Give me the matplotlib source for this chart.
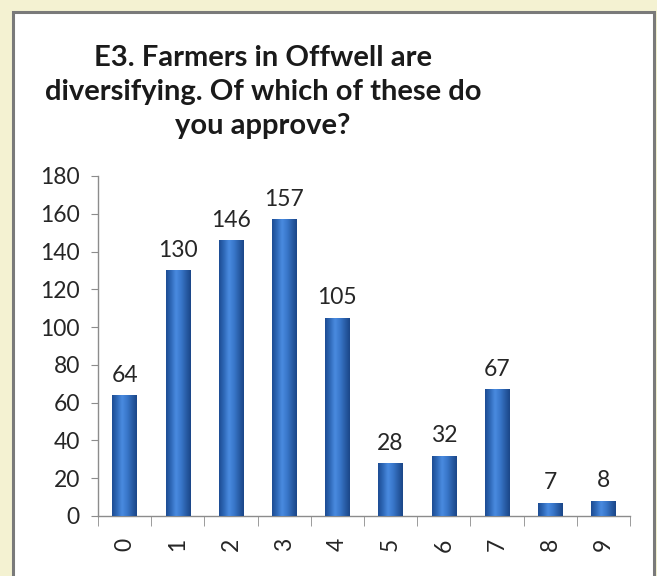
import matplotlib
matplotlib.use("Agg")
import matplotlib.pyplot as plt
import numpy as np
from matplotlib.patches import Rectangle
from matplotlib.colors import LinearSegmentedColormap

categories = ["0", "1", "2", "3", "4", "5", "6", "7", "8", "9"]
values = [64, 130, 146, 157, 105, 28, 32, 67, 7, 8]
title = "E3. Farmers in Offwell are\ndiversifying. Of which of these do\nyou approve?"

plt.rcParams['font.family'] = ['Lato', 'DejaVu Sans']

W, H = 657, 576
fig = plt.figure(figsize=(W / 100, H / 100), dpi=100)
fig.patch.set_facecolor('#f4f2d2')

# white panel with grey border
panel = Rectangle((13 / W, -0.01), (654 - 13) / W, (576 - 12) / H + 0.01,
                  transform=fig.transFigure, facecolor='white',
                  edgecolor='#7a7a7a', linewidth=2.2, zorder=-5)
fig.patches.append(panel)

ax = fig.add_axes([98 / W, 60 / H, (630 - 98) / W, (400 - 60) / H])
ax.set_facecolor('none')
ax.patch.set_alpha(0)

x = np.arange(len(categories))
bw = 0.46
cmap = LinearSegmentedColormap.from_list(
    'cyl', ['#1d4c93', '#2f69b8', '#4a8be0', '#3a78cc', '#2a5fa9', '#1b4688'])
grad = np.linspace(0, 1, 64).reshape(1, -1)

bars = ax.bar(x, values, width=bw, color='#2e66b4', zorder=2)
for b in bars:
    bx, by = b.get_x(), b.get_y()
    bwid, bh = b.get_width(), b.get_height()
    im = ax.imshow(grad, cmap=cmap, aspect='auto',
                   extent=[bx, bx + bwid, 0, bh], zorder=3,
                   interpolation='bicubic')
    im.set_clip_path(b)

for xi, v in zip(x, values):
    ax.text(xi, v + 5, str(v), ha='center', va='bottom',
            fontsize=16.5, color='#262626')

ax.set_xlim(-0.5, len(categories) - 0.5)
ax.set_ylim(0, 180)
ax.set_yticks(np.arange(0, 181, 20))
ax.set_xticks(x)
ax.set_xticklabels(categories, rotation=90, fontsize=16.5, color='#262626')
ax.set_xticks(np.arange(-0.5, len(categories), 1), minor=True)
ax.tick_params(axis='x', which='major', length=0, pad=16)
ax.tick_params(axis='x', which='minor', length=7, color='#8c8c8c', direction='out')
ax.tick_params(axis='y', length=5, color='#8c8c8c', labelsize=16.5,
               labelcolor='#262626', pad=8)
for s in ['top', 'right']:
    ax.spines[s].set_visible(False)
for s in ['left', 'bottom']:
    ax.spines[s].set_color('#8c8c8c')
    ax.spines[s].set_linewidth(1.0)

fig.text(263 / W, 1 - 92 / H, title, ha='center', va='center',
         fontsize=21, fontweight='bold', color='#1a1a1a', linespacing=1.38)

fig.savefig('out.png', dpi=100, facecolor=fig.get_facecolor())
